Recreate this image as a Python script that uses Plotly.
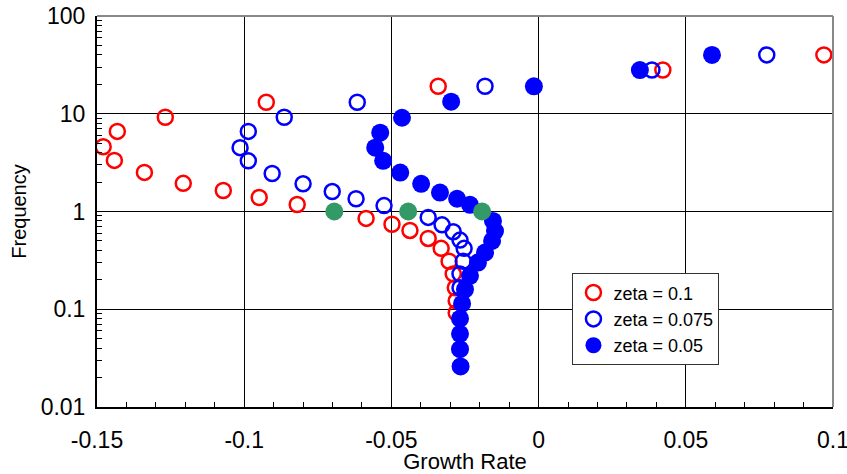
import plotly.graph_objects as go

# ---- data ----
red_x = [0.0969, 0.0422, -0.0341, -0.0925, -0.1268, -0.1431, -0.1479, -0.1441, -0.1339,
         -0.1207, -0.1071, -0.0949, -0.0820, -0.0586, -0.0498, -0.0437, -0.0375, -0.0331,
         -0.0304, -0.0290, -0.0283, -0.0280, -0.0280]
red_y = [40, 28, 19.1, 13.1, 9.2, 6.6, 4.6, 3.33, 2.51, 1.94, 1.64, 1.39, 1.18, 0.85,
         0.74, 0.64, 0.53, 0.42, 0.31, 0.23, 0.166, 0.122, 0.092]

blue_open_x = [0.0775, 0.0385, -0.0182, -0.0616, -0.0864, -0.0986, -0.1014, -0.0986, -0.0905,
               -0.0800, -0.0701, -0.0620, -0.0525, -0.0375, -0.0328, -0.0290, -0.0267, -0.0253,
               -0.0256, -0.0267, -0.0267]
blue_open_y = [40, 28, 19.1, 13.1, 9.2, 6.6, 4.5, 3.3, 2.45, 1.92, 1.6, 1.35, 1.15, 0.87,
               0.73, 0.62, 0.51, 0.42, 0.31, 0.23, 0.166]

blue_fill_x = [0.0589, 0.0344, -0.0016, -0.0297, -0.0464, -0.0538, -0.0555, -0.0528, -0.0470,
               -0.0399, -0.0335, -0.0277, -0.0233, -0.0155, -0.0148, -0.0158, -0.0182, -0.0206,
               -0.0233, -0.0250, -0.0260, -0.0267, -0.0267, -0.0267, -0.0265]
blue_fill_y = [40, 28, 19.1, 13.3, 9.1, 6.4, 4.5, 3.3, 2.5, 1.92, 1.56, 1.35, 1.17, 0.80,
               0.63, 0.50, 0.38, 0.30, 0.22, 0.16, 0.114, 0.08, 0.056, 0.039, 0.026]

green_x = [-0.0694, -0.0443, -0.0192]
green_y = [1, 1, 1]

x_tickvals = [-0.15, -0.1, -0.05, 0, 0.05, 0.1]
x_ticktext = ["-0.15", "-0.1", "-0.05", "0", "0.05", "0.1"]
y_tickvals = [0.01, 0.1, 1, 10, 100]
y_ticktext = ["0.01", "0.1", "1", "10", "100"]

FONT = "Liberation Sans, Arial, sans-serif"

fig = go.Figure()
fig.add_trace(go.Scatter(x=red_x, y=red_y, mode="markers", name="zeta = 0.1",
                         marker=dict(symbol="circle-open", size=15, color="#ff0000",
                                     line=dict(width=2.5, color="#ff0000"))))
fig.add_trace(go.Scatter(x=blue_open_x, y=blue_open_y, mode="markers", name="zeta = 0.075",
                         marker=dict(symbol="circle-open", size=15, color="#0000ff",
                                     line=dict(width=2.5, color="#0000ff"))))
fig.add_trace(go.Scatter(x=blue_fill_x, y=blue_fill_y, mode="markers", name="zeta = 0.05",
                         marker=dict(symbol="circle", size=18, color="#0000ff",
                                     line=dict(width=0))))
fig.add_trace(go.Scatter(x=green_x, y=green_y, mode="markers", showlegend=False,
                         marker=dict(symbol="circle", size=18, color="#339966",
                                     line=dict(width=0))))

fig.update_layout(
    width=847, height=474,
    margin=dict(l=97, r=14, t=16, b=67, autoexpand=False),
    paper_bgcolor="white", plot_bgcolor="white",
    font=dict(family=FONT, size=23, color="black"),
    showlegend=True,
    legend=dict(x=0.646, y=0.342, xanchor="left", yanchor="top",
                bgcolor="white", bordercolor="#333333", borderwidth=1,
                font=dict(family=FONT, size=18, color="black"),
                itemwidth=30, tracegroupgap=0),
    xaxis=dict(range=[-0.15, 0.1], tickvals=x_tickvals, ticktext=x_ticktext,
               showgrid=True, gridcolor="black", gridwidth=1,
               zeroline=False, showline=True, linecolor="black", linewidth=2,
               ticks="inside", ticklen=6, tickcolor="black",
               ticklabelstandoff=11, ticklabeloverflow="allow", automargin=False,
               tickfont=dict(size=23),
               minor=dict(dtick=0.01, ticks="inside", ticklen=5, tickcolor="black",
                          showgrid=False),
               title=dict(text="Growth Rate", font=dict(size=22), standoff=0)),
    yaxis=dict(type="log", range=[-2, 2], tickvals=y_tickvals, ticktext=y_ticktext,
               showgrid=True, gridcolor="black", gridwidth=1,
               zeroline=False, showline=True, linecolor="black", linewidth=2,
               ticks="inside", ticklen=8, tickcolor="black",
               ticklabelstandoff=5, ticklabeloverflow="allow", automargin=False,
               tickfont=dict(size=23),
               minor=dict(dtick="D1", ticks="inside", ticklen=5, tickcolor="black",
                          showgrid=False),
               title=dict(text="Frequency", font=dict(size=20), standoff=9)),
)

# gray top and right border
fig.add_shape(type="line", xref="paper", yref="paper", x0=0, x1=1, y0=1, y1=1,
              line=dict(color="#888888", width=2))
fig.add_shape(type="line", xref="paper", yref="paper", x0=1, x1=1, y0=0, y1=1,
              line=dict(color="#888888", width=2))

fig.write_html("out.html")
